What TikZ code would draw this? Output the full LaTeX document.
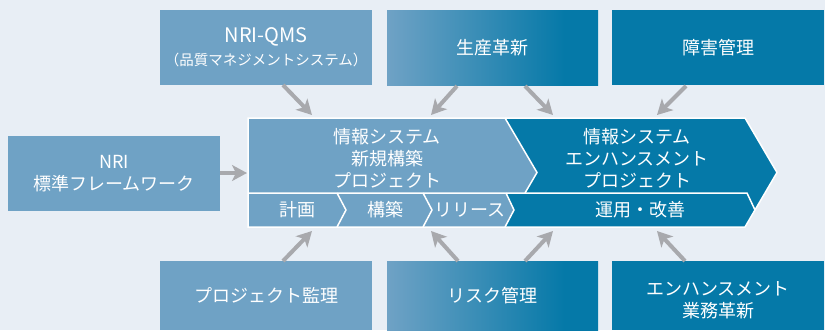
\documentclass[tikz,border=0pt]{standalone}
\usepackage{fontspec}
\setmainfont{Noto Sans CJK JP}
\usetikzlibrary{arrows.meta}
\definecolor{bg}{HTML}{E8EEF5}
\definecolor{lb}{HTML}{6FA2C5}
\definecolor{db}{HTML}{0579A8}
\definecolor{ag}{HTML}{A8A9AD}
\pgfdeclarehorizontalshading{bluegrad}{100bp}{color(0bp)=(lb); color(25bp)=(lb); color(67bp)=(db); color(100bp)=(db)}
\tikzset{
  box/.style={anchor=north west, inner sep=0pt, minimum width=212pt, minimum height=75pt, text=white, align=center},
  lightbox/.style={box, fill=lb},
  darkbox/.style={box, fill=db},
  gradbox/.style={box, shade, shading=bluegrad},
  lbl/.style={text=white, align=center, inner sep=0pt},
  arr/.style={draw=ag, line width=4pt, -{Stealth[length=15pt,width=16pt,inset=4pt]}},
  wline/.style={draw=white, line width=1.5pt, line join=miter}
}
\begin{document}
\begin{tikzpicture}[x=1pt,y=-1pt,font=\fontsize{18}{22}\selectfont]
\fill[bg] (0,0) rectangle (825,330);
\useasboundingbox (0,0) rectangle (825,330);

% boxes
\node[lightbox] (qms) at (160,10) {{\fontsize{20}{22}\selectfont NRI-QMS}\\[1pt]{\fontsize{14.5}{16}\selectfont （品質マネジメントシステム）}};
\node[gradbox, minimum width=211pt] (prod) at (387,10) {生産革新};
\node[darkbox] (fault) at (612,10) {障害管理};
\node[lightbox] (nri) at (8,136) {NRI\\標準フレームワーク};
\node[lightbox, minimum height=69pt] (audit) at (160,261) {プロジェクト監理};
\node[gradbox, minimum width=211pt, minimum height=69pt] (risk) at (387,261) {リスク管理};
\node[darkbox, minimum height=69pt] (enh) at (612,261) {};
\node[lbl] (enhT) at (718,300) {エンハンスメント\\業務革新};

% central shape
\fill[lb] (248,118) -- (505,118) -- (537,172.5) -- (505,227) -- (248,227) -- cycle;
\fill[db] (505,118) -- (745,118) -- (777,172.5) -- (745,227) -- (505,227) -- (514,210) -- (506,193) -- (525,193) -- (537,172.5) -- cycle;
\draw[wline] (248,118) -- (745,118) -- (777,172.5) -- (745,227) -- (248,227) -- cycle;
\draw[wline] (505,118) -- (537,172.5) -- (525,193);
\draw[wline] (248,193) -- (747,193) -- (755,210);
\draw[wline] (337,193) -- (346,210) -- (337,227);
\draw[wline] (423,193) -- (432,210) -- (423,227);
\draw[wline] (506,193) -- (514,210) -- (505,227);

\node[lbl] (newp) at (387,158) {情報システム\\新規構築\\プロジェクト};
\node[lbl] (enhp) at (637,158) {情報システム\\エンハンスメント\\プロジェクト};
\node[lbl] (plan) at (297,210) {計画};
\node[lbl] (build) at (385,210) {構築};
\node[lbl] (rel) at (470,210) {リリース};
\node[lbl] (ops) at (640,210) {運用・改善};

% arrow end points
\coordinate (t1) at (283,85);  \coordinate (h1) at (312,115);
\coordinate (t2) at (457,86);  \coordinate (h2) at (431,115);
\coordinate (t3) at (525,86);  \coordinate (h3) at (553,115);
\coordinate (t4) at (686,86);  \coordinate (h4) at (657,115);
\coordinate (t5) at (220,173); \coordinate (h5) at (247,173);
\coordinate (t6) at (283,261); \coordinate (h6) at (312,231);
\coordinate (t7) at (458,261); \coordinate (h7) at (431,231);
\coordinate (t8) at (525,261); \coordinate (h8) at (553,231);
\coordinate (t9) at (685,261); \coordinate (h9) at (657,231);

\foreach \i in {1,...,9} { \draw[arr] (t\i) -- (h\i); }
\end{tikzpicture}
\end{document}
